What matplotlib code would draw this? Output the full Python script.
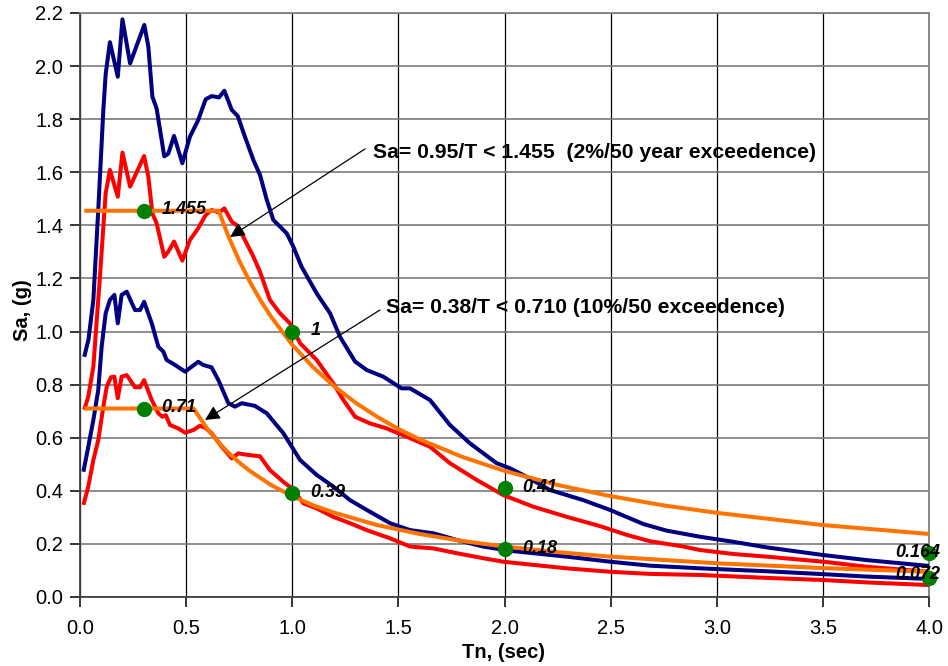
import matplotlib
matplotlib.use('Agg')
import matplotlib.pyplot as plt

plt.rcParams['font.family'] = ['Liberation Sans', 'DejaVu Sans']

# ---------------- data ----------------
t_blue_hi = [0.02, 0.04, 0.063, 0.086, 0.11, 0.121, 0.141, 0.178, 0.2, 0.236, 0.303, 0.322, 0.341,
             0.361, 0.397, 0.416, 0.443, 0.482, 0.518, 0.557, 0.592, 0.62, 0.655, 0.68, 0.715, 0.743,
             0.777, 0.817, 0.848, 0.88, 0.911, 0.974, 1.005, 1.044, 1.115, 1.178, 1.225, 1.296, 1.351,
             1.429, 1.515, 1.555, 1.649, 1.743, 1.837, 1.963, 2.026, 2.104, 2.214, 2.371, 2.497, 2.654,
             2.764, 2.921, 3.078, 3.235, 3.502, 3.706, 4.0]
sa_blue_hi = [0.905, 0.97, 1.12, 1.458, 1.835, 1.97, 2.09, 1.96, 2.176, 2.01, 2.155, 2.073, 1.885,
              1.84, 1.66, 1.67, 1.737, 1.634, 1.734, 1.797, 1.875, 1.887, 1.882, 1.907, 1.835, 1.812,
              1.734, 1.646, 1.59, 1.496, 1.42, 1.37, 1.32, 1.244, 1.144, 1.069, 0.98, 0.887, 0.855,
              0.83, 0.786, 0.786, 0.742, 0.648, 0.579, 0.504, 0.485, 0.453, 0.403, 0.365, 0.328, 0.275,
              0.25, 0.227, 0.208, 0.187, 0.158, 0.139, 0.117]

t_red_hi = [0.02, 0.039, 0.063, 0.094, 0.11, 0.121, 0.141, 0.178, 0.2, 0.236, 0.302, 0.322, 0.341,
            0.361, 0.397, 0.416, 0.443, 0.482, 0.518, 0.557, 0.592, 0.62, 0.655, 0.68, 0.715, 0.743,
            0.777, 0.817, 0.848, 0.895, 0.942, 0.989, 1.037, 1.115, 1.193, 1.241, 1.296, 1.366, 1.445,
            1.539, 1.649, 1.743, 1.869, 1.994, 2.136, 2.293, 2.45, 2.576, 2.686, 2.843, 2.921, 3.078,
            3.235, 3.502, 3.706, 4.0]
sa_red_hi = [0.705, 0.755, 0.868, 1.207, 1.395, 1.521, 1.609, 1.508, 1.674, 1.546, 1.661, 1.583, 1.445,
             1.408, 1.282, 1.301, 1.339, 1.267, 1.345, 1.389, 1.439, 1.458, 1.448, 1.464, 1.414, 1.398,
             1.345, 1.282, 1.225, 1.119, 1.069, 1.031, 0.956, 0.893, 0.805, 0.742, 0.679, 0.654, 0.635,
             0.604, 0.566, 0.504, 0.441, 0.384, 0.34, 0.302, 0.267, 0.234, 0.21, 0.19, 0.177, 0.162,
             0.152, 0.133, 0.114, 0.095]

t_blue_lo = [0.016, 0.039, 0.063, 0.086, 0.102, 0.121, 0.141, 0.162, 0.178, 0.196, 0.22, 0.259, 0.283,
             0.302, 0.338, 0.369, 0.393, 0.408, 0.448, 0.495, 0.557, 0.581, 0.62, 0.652, 0.699, 0.73,
             0.762, 0.824, 0.88, 0.958, 1.037, 1.115, 1.193, 1.272, 1.351, 1.461, 1.555, 1.665, 1.775,
             1.9, 2.026, 2.136, 2.293, 2.497, 2.686, 2.921, 3.235, 3.502, 3.706, 4.0]
sa_blue_lo = [0.472, 0.566, 0.667, 0.78, 0.943, 1.069, 1.119, 1.138, 1.031, 1.138, 1.15, 1.081, 1.081,
              1.112, 1.031, 0.943, 0.924, 0.893, 0.874, 0.849, 0.886, 0.874, 0.865, 0.817, 0.73, 0.717,
              0.73, 0.72, 0.692, 0.617, 0.516, 0.46, 0.416, 0.365, 0.328, 0.278, 0.252, 0.24, 0.215,
              0.19, 0.174, 0.165, 0.152, 0.133, 0.118, 0.108, 0.097, 0.086, 0.077, 0.068]

t_red_lo = [0.016, 0.039, 0.063, 0.086, 0.11, 0.126, 0.146, 0.162, 0.178, 0.196, 0.22, 0.259, 0.283,
            0.302, 0.338, 0.369, 0.388, 0.404, 0.424, 0.463, 0.495, 0.534, 0.565, 0.589, 0.62, 0.668,
            0.715, 0.746, 0.793, 0.848, 0.895, 0.958, 1.005, 1.052, 1.115, 1.193, 1.272, 1.351, 1.461,
            1.555, 1.665, 1.775, 1.9, 1.994, 2.136, 2.293, 2.497, 2.686, 2.921, 3.235, 3.502, 3.706, 4.0]
sa_red_lo = [0.347, 0.416, 0.516, 0.591, 0.717, 0.792, 0.828, 0.83, 0.749, 0.83, 0.836, 0.79, 0.79,
             0.817, 0.742, 0.692, 0.679, 0.685, 0.648, 0.635, 0.619, 0.629, 0.645, 0.638, 0.617, 0.566,
             0.522, 0.541, 0.535, 0.53, 0.478, 0.434, 0.405, 0.353, 0.334, 0.302, 0.278, 0.252, 0.221,
             0.19, 0.183, 0.165, 0.146, 0.133, 0.121, 0.108, 0.095, 0.087, 0.083, 0.072, 0.064, 0.055, 0.045]

# design spectra (2%/50 and 10%/50)
t_design_hi = [0.02, 0.653, 0.7, 0.75, 0.8, 0.85, 0.9, 1.0, 1.1, 1.2, 1.3, 1.4, 1.5, 1.6, 1.8, 2.0,
               2.25, 2.5, 2.75, 3.0, 3.5, 4.0]
sa_design_hi = [1.455, 1.455, 1.357, 1.267, 1.188, 1.118, 1.056, 0.95, 0.864, 0.792, 0.731, 0.679,
                0.633, 0.594, 0.528, 0.475, 0.422, 0.38, 0.345, 0.317, 0.271, 0.2375]
t_design_lo = [0.02, 0.535, 0.6, 0.65, 0.7, 0.75, 0.8, 0.9, 1.0, 1.1, 1.2, 1.4, 1.6, 1.8, 2.0, 2.25,
               2.5, 3.0, 3.5, 4.0]
sa_design_lo = [0.71, 0.71, 0.633, 0.585, 0.543, 0.507, 0.475, 0.422, 0.38, 0.345, 0.317, 0.271,
                0.2375, 0.211, 0.19, 0.169, 0.152, 0.127, 0.109, 0.095]

pt_t = [0.3, 0.3, 1.0, 1.0, 2.0, 2.0, 4.0, 4.0]
pt_sa = [1.455, 0.71, 1.0, 0.39, 0.41, 0.18, 0.164, 0.072]
pt_labels = ["1.455", "0.71", "1", "0.39", "0.41", "0.18", "0.164", "0.072"]

x_ticks = [0.0, 0.5, 1.0, 1.5, 2.0, 2.5, 3.0, 3.5, 4.0]
y_ticks = [0.0, 0.2, 0.4, 0.6, 0.8, 1.0, 1.2, 1.4, 1.6, 1.8, 2.0, 2.2]
x_label = "Tn, (sec)"
y_label = "Sa, (g)"
note_hi = "Sa= 0.95/T < 1.455  (2%/50 year exceedence)"
note_lo = "Sa= 0.38/T < 0.710 (10%/50 exceedence)"

# ---------------- figure ----------------
W, H = 948, 666
fig = plt.figure(figsize=(W / 100, H / 100), dpi=100)
ax = fig.add_axes([80 / W, 1 - 597 / H, (929 - 80) / W, (597 - 13) / H])
ax.set_xlim(0, 4)
ax.set_ylim(0, 2.2)

navy = '#000080'
red = '#FF0000'
orange = '#FF7300'
green = '#008000'
lw = 2.9

for t, s, c, z in [(t_blue_hi, sa_blue_hi, navy, 3), (t_blue_lo, sa_blue_lo, navy, 3),
                   (t_red_hi, sa_red_hi, red, 3.2), (t_red_lo, sa_red_lo, red, 3.2),
                   (t_design_hi, sa_design_hi, orange, 3.5), (t_design_lo, sa_design_lo, orange, 3.5)]:
    ax.plot(t, s, color=c, lw=lw, zorder=z, solid_joinstyle='round', solid_capstyle='butt')
ax.plot(pt_t, pt_sa, linestyle='none', marker='o', ms=10, color=green, zorder=5, clip_on=False)

for i, (t, s, lab) in enumerate(zip(pt_t, pt_sa, pt_labels)):
    if t >= 4.0:
        off = (-34, 3 if i == 6 else 5)
    else:
        off = (18, 3)
    ax.annotate(lab, xy=(t, s), xytext=off, textcoords='offset pixels',
                ha='left', va='center_baseline', fontsize=13, fontweight='bold',
                fontstyle='italic', color='black', zorder=6, annotation_clip=False)

# arrows and notes
ax.annotate('', xy=(0.707, 1.356), xytext=(1.343, 1.688),
            arrowprops=dict(arrowstyle='-|>', color='black', lw=0.9, mutation_scale=22,
                            shrinkA=0, shrinkB=0), zorder=7)
ax.annotate('', xy=(0.589, 0.667), xytext=(1.413, 1.081),
            arrowprops=dict(arrowstyle='-|>', color='black', lw=0.9, mutation_scale=22,
                            shrinkA=0, shrinkB=0), zorder=7)
ax.text(1.380, 1.676, note_hi, ha='left', va='center', fontsize=15.2, fontweight='bold', zorder=7)
ax.text(1.442, 1.089, note_lo, ha='left', va='center', fontsize=15.2, fontweight='bold', zorder=7)

# grid
ax.set_xticks(x_ticks)
ax.set_yticks(y_ticks)
ax.set_xticklabels([f"{v:.1f}" for v in x_ticks])
ax.set_yticklabels([f"{v:.1f}" for v in y_ticks])
ax.yaxis.grid(True, color='#7a7a7a', lw=1.2, zorder=1)
ax.xaxis.grid(True, color='black', lw=0.9, zorder=1)
ax.set_axisbelow(True)
ax.tick_params(axis='both', direction='out', length=7, width=1.1, labelsize=14.5, colors='black')
ax.tick_params(axis='y', pad=5)
ax.tick_params(axis='x', pad=9)
for s in ['left', 'bottom']:
    ax.spines[s].set_color('#404040')
    ax.spines[s].set_linewidth(1.3)
for s in ['top', 'right']:
    ax.spines[s].set_color('#808080')
    ax.spines[s].set_linewidth(1.3)

fig.text(504 / W, 1 - 652 / H, x_label, ha='center', va='center', fontsize=14.5, fontweight='bold')
fig.text(22 / W, 1 - 310 / H, y_label, ha='center', va='center', rotation=90,
         fontsize=14.5, fontweight='bold')

fig.savefig('out.png', dpi=100)
